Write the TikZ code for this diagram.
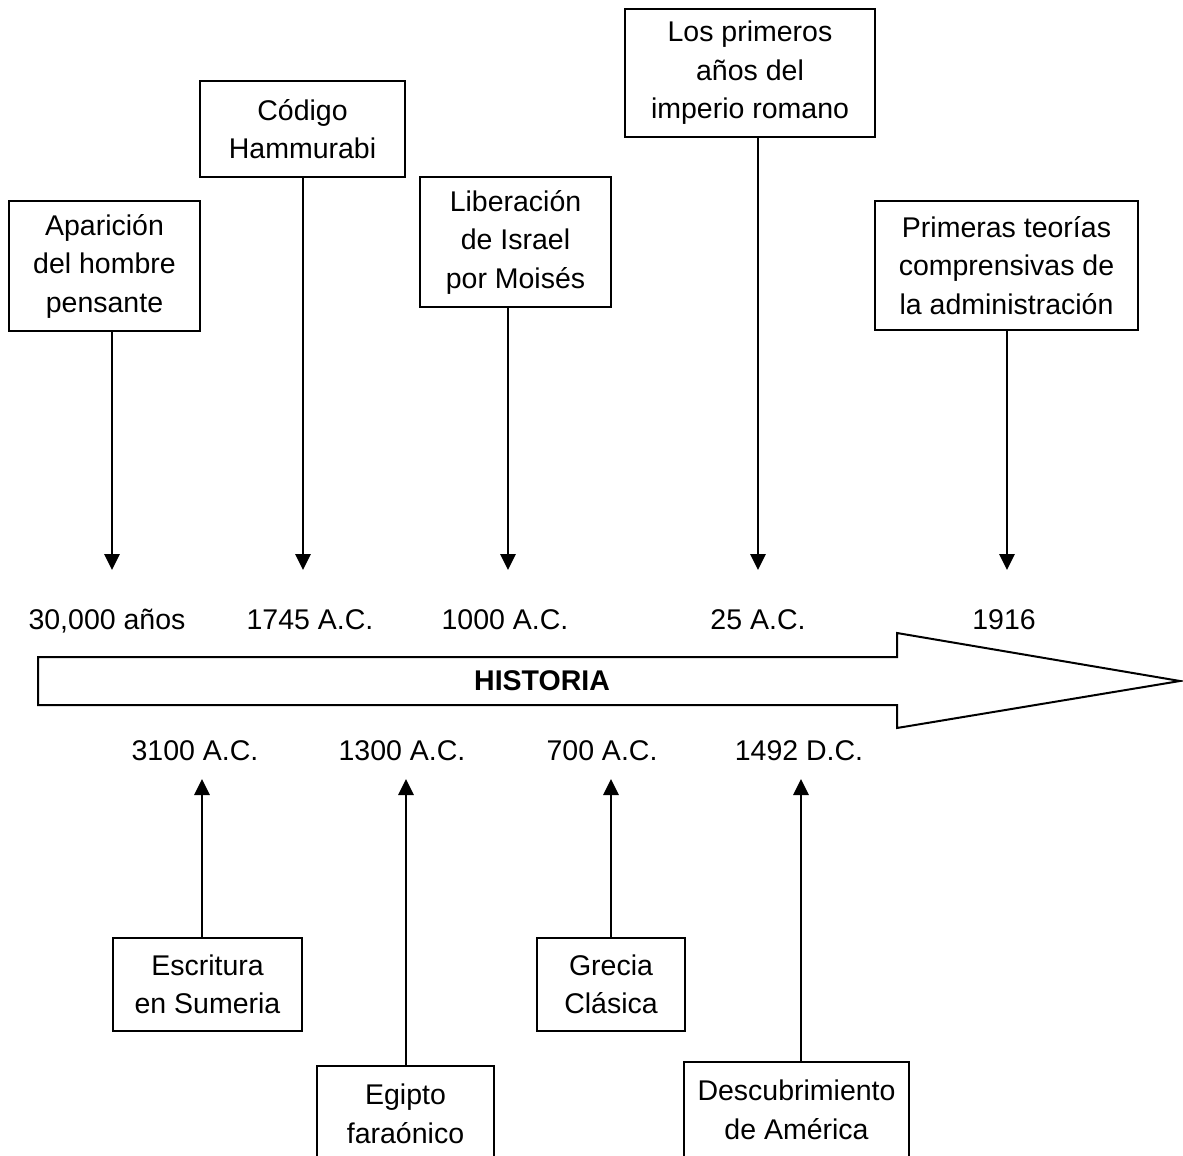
\documentclass[tikz,border=0pt]{standalone}
\usepackage{fontspec}
\setmainfont{Liberation Sans}
\usetikzlibrary{arrows.meta}

\begin{document}
\begin{tikzpicture}[x=1pt,y=-1pt,
    font=\fontsize{28.5}{38.5}\selectfont,
    event/.style={draw,line width=2pt,align=center,inner sep=0pt},
    year/.style={anchor=base},
    link/.style={line width=2.8pt,-{Triangle[width=15pt,length=16pt]}}]
  \useasboundingbox (0,0) rectangle (1183,1156);
  \clip (0,0) rectangle (1183,1156);

  % events above the line
  \node[event,minimum width=191pt,minimum height=130pt] (ev-hombre)     at (104.5,266)  {Aparición\\del hombre\\pensante};
  \node[event,minimum width=205pt,minimum height=96pt]  (ev-hammurabi)  at (302.5,129)  {Código\\Hammurabi};
  \node[event,minimum width=191pt,minimum height=130pt] (ev-israel)     at (515.5,242)  {Liberación\\de Israel\\por Moisés};
  \node[event,minimum width=250pt,minimum height=128pt] (ev-roma)       at (750,73)     {Los primeros\\años del\\imperio romano};
  \node[event,minimum width=263pt,minimum height=129pt] (ev-teorias)    at (1006.5,265.5) {Primeras teorías\\comprensivas de\\la administración};

  % events below the line
  \node[event,minimum width=189pt,minimum height=93pt]  (ev-sumeria)    at (207.5,984.5) {Escritura\\en Sumeria};
  \node[event,minimum width=177pt,minimum height=96pt]  (ev-egipto)     at (405.5,1114) {Egipto\\faraónico};
  \node[event,minimum width=148pt,minimum height=93pt]  (ev-grecia)     at (611,984.5)  {Grecia\\Clásica};
  \node[event,minimum width=225pt,minimum height=96pt]  (ev-america)    at (796.5,1110) {Descubrimiento\\de América};

  % dates
  \node[year] (yr-hombre)    at (107,629)  {30,000 años};
  \node[year] (yr-hammurabi) at (310,629)  {1745 A.C.};
  \node[year] (yr-israel)    at (505,629)  {1000 A.C.};
  \node[year] (yr-roma)      at (758,629)  {25 A.C.};
  \node[year] (yr-teorias)   at (1004,629) {1916};
  \node[year] (yr-sumeria)   at (195,760)  {3100 A.C.};
  \node[year] (yr-egipto)    at (402,760)  {1300 A.C.};
  \node[year] (yr-grecia)    at (602,760)  {700 A.C.};
  \node[year] (yr-america)   at (799,760)  {1492 D.C.};

  % big arrow
  \draw[line width=2pt,line join=miter] (38,657) -- (897,657) -- (897,633) -- (1180,681)
    -- (897,728) -- (897,705) -- (38,705) -- cycle;
  \node[font=\fontsize{28.5}{38.5}\selectfont\bfseries] (historia) at (542,681) {HISTORIA};

  % arrow tips
  \coordinate (tip-hombre)    at (112,570);
  \coordinate (tip-hammurabi) at (303,570);
  \coordinate (tip-israel)    at (508,570);
  \coordinate (tip-roma)      at (758,570);
  \coordinate (tip-teorias)   at (1007,570);
  \coordinate (tip-sumeria)   at (202,779);
  \coordinate (tip-egipto)    at (406,779);
  \coordinate (tip-grecia)    at (611,779);
  \coordinate (tip-america)   at (801,779);

  \draw[link] (ev-hombre.south -| tip-hombre)       -- (tip-hombre);
  \draw[link] (ev-hammurabi.south -| tip-hammurabi) -- (tip-hammurabi);
  \draw[link] (ev-israel.south -| tip-israel)       -- (tip-israel);
  \draw[link] (ev-roma.south -| tip-roma)           -- (tip-roma);
  \draw[link] (ev-teorias.south -| tip-teorias)     -- (tip-teorias);
  \draw[link] (ev-sumeria.north -| tip-sumeria)     -- (tip-sumeria);
  \draw[link] (ev-egipto.north -| tip-egipto)       -- (tip-egipto);
  \draw[link] (ev-grecia.north -| tip-grecia)       -- (tip-grecia);
  \draw[link] (ev-america.north -| tip-america)     -- (tip-america);
\end{tikzpicture}
\end{document}
